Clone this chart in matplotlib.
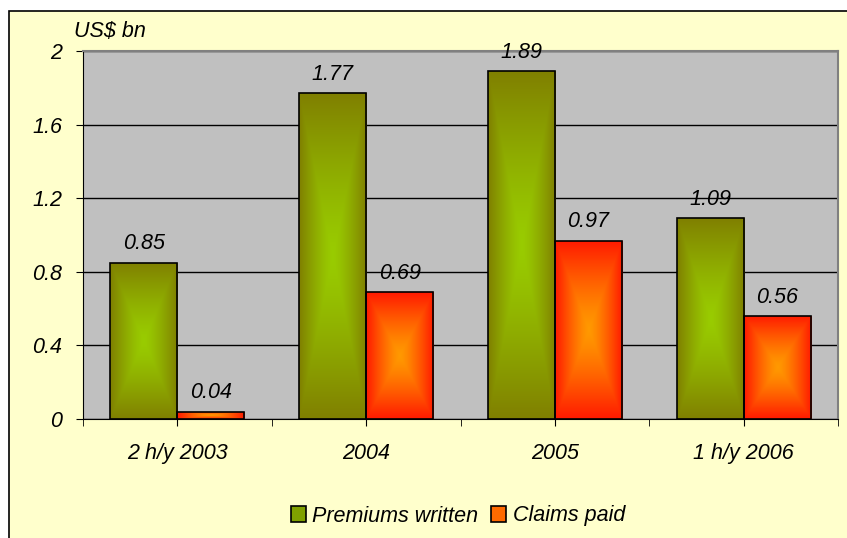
import matplotlib

matplotlib.use("Agg")
import matplotlib.pyplot as plt
import numpy as np
from matplotlib.colors import LinearSegmentedColormap
from matplotlib.patches import Rectangle

plt.rcParams["font.family"] = ["Liberation Sans", "DejaVu Sans"]
plt.rcParams["font.style"] = "italic"

categories = ["2 h/y 2003", "2004", "2005", "1 h/y 2006"]
premiums = [0.85, 1.77, 1.89, 1.09]
claims = [0.04, 0.69, 0.97, 0.56]
series_names = ["Premiums written", "Claims paid"]
y_ticks = [0, 0.4, 0.8, 1.2, 1.6, 2]
y_labels = ["0", "0.4", "0.8", "1.2", "1.6", "2"]

FS = 15.5

green_cmap = LinearSegmentedColormap.from_list("g", ["#99cc00", "#808000"])
red_cmap = LinearSegmentedColormap.from_list("r", ["#ff9900", "#ff1a00"])


def gradient_fill(ax, bar, cmap):
    x0, y0 = bar.get_x(), bar.get_y()
    w, h = bar.get_width(), bar.get_height()
    u = np.linspace(-1, 1, 60)
    v = np.linspace(-1, 1, 120)
    uu, vv = np.meshgrid(u, v)
    t = np.maximum(np.abs(uu), np.abs(vv)) ** 1.3
    im = ax.imshow(t, cmap=cmap, extent=[x0, x0 + w, y0, y0 + h], aspect="auto",
                   origin="lower", zorder=2, interpolation="bilinear", vmin=0, vmax=1)
    im.set_clip_path(bar)


fig = plt.figure(figsize=(8.47, 5.38), dpi=100)
fig.patch.set_facecolor("white")
box = Rectangle((9 / 847, -0.01), 1.0, 1 - 11 / 538 + 0.01, transform=fig.transFigure,
                facecolor="#ffffcc", edgecolor="black", linewidth=1.2, zorder=-5)
fig.patches.append(box)

ax = fig.add_axes([83 / 847, 1 - 419 / 538, 755 / 847, 368 / 538])
ax.set_facecolor("#c0c0c0")

x = np.arange(len(categories))
width = 0.355
bars_p = ax.bar(x - width / 2, premiums, width, facecolor="none", edgecolor="black", linewidth=1.2, zorder=3)
bars_c = ax.bar(x + width / 2, claims, width, facecolor="none", edgecolor="black", linewidth=1.2, zorder=3)
for bar in bars_p:
    gradient_fill(ax, bar, green_cmap)
for bar in bars_c:
    gradient_fill(ax, bar, red_cmap)

for bars, vals in ((bars_p, premiums), (bars_c, claims)):
    for bar, val in zip(bars, vals):
        ax.text(bar.get_x() + bar.get_width() / 2, val + 0.045, f"{val:.2f}",
                ha="center", va="bottom", fontsize=FS, color="black", zorder=4)

ax.set_xlim(-0.5, len(categories) - 0.5)
ax.set_ylim(0, 2)
ax.set_yticks(y_ticks)
ax.set_yticklabels(y_labels, fontsize=FS)
ax.set_xticks(x)
ax.set_xticklabels(categories, fontsize=FS)
ax.set_xticks(np.arange(len(categories) + 1) - 0.5, minor=True)
ax.tick_params(axis="x", which="both", length=5, direction="out", pad=12)
ax.tick_params(axis="y", length=5, direction="out", pad=10)
ax.yaxis.grid(True, color="black", linewidth=1)
ax.set_axisbelow(True)
ax.spines["top"].set_color("#808080")
ax.spines["right"].set_color("#808080")
ax.spines["top"].set_linewidth(1.5)
ax.spines["right"].set_linewidth(1.5)
ax.spines["left"].set_color("black")
ax.spines["bottom"].set_color("black")
for gl in ax.get_ygridlines():
    gl.set_zorder(1)

ax.text(-0.012, 1.025, "US$ bn", transform=ax.transAxes, fontsize=FS, ha="left", va="bottom")

handles = [Rectangle((0, 0), 1, 1, facecolor="#80a000", edgecolor="black", linewidth=1.2),
           Rectangle((0, 0), 1, 1, facecolor="#ff6a00", edgecolor="black", linewidth=1.2)]
fig.legend(handles, series_names, loc="center", bbox_to_anchor=(458 / 847, 1 - 516 / 538), ncol=2,
           frameon=False, fontsize=FS, handlelength=0.7, handleheight=0.7, handletextpad=0.3,
           columnspacing=0.6)

fig.savefig("out.png", dpi=100, facecolor=fig.get_facecolor())
